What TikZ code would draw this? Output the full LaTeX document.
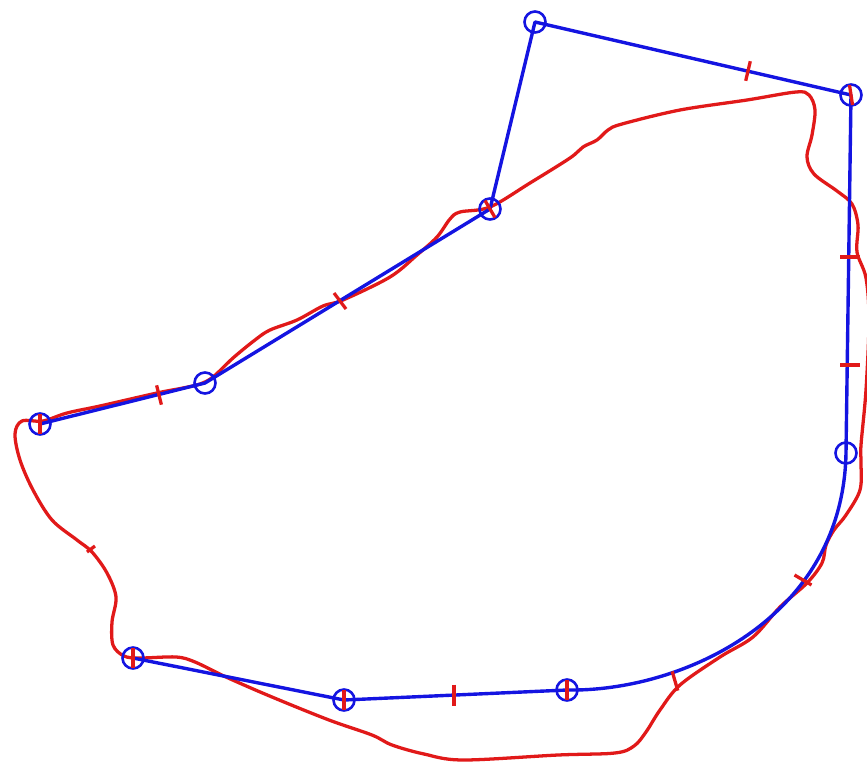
\documentclass[tikz,border=0pt]{standalone}
\usepackage{tikz}

\definecolor{fitblue}{RGB}{20,20,225}
\definecolor{tracered}{RGB}{225,25,25}

\begin{document}
\begin{tikzpicture}[x=0.3mm, y=-0.3mm, line join=round, line cap=round]

    % ==========================================
    % VARIABLE DEFINITIONS (pixel units)
    % ==========================================
    \pgfmathsetmacro{\Rring}{10.5}  % Radius of the vertex rings
    \tikzset{
        fitline/.style={fitblue, line width=2.9pt},
        ring/.style={circle, draw=fitblue, line width=2.2pt, minimum size=2*\Rring*0.3mm, inner sep=0pt},
        traceline/.style={tracered, line width=2.8pt},
        redtick/.style={tracered, line width=2.8pt, line cap=butt}
    }
    % ==========================================

    % Page size (same proportions as the reference)
    \useasboundingbox (0,0) rectangle (867,763);
    \clip (0,0) rectangle (867,763);

    % Vertices of the fitted outline
    \coordinate (vTop)    at (535, 22);
    \coordinate (vNE)     at (851, 95);
    \coordinate (vE)      at (846,453);
    \coordinate (vS)      at (567,690);
    \coordinate (vSW)     at (344,700);
    \coordinate (vFoot)   at (133,658);
    \coordinate (vW)      at (40,424);
    \coordinate (vMidW)   at (205,383);
    \coordinate (vNeck)   at (490,209);

    % Traced (hand drawn) outline
    \draw[traceline] plot[smooth cycle, tension=0.55] coordinates {
        (490,207) (460,212) (450,219) (437,237) (417,255) (390,277)
        (343,300) (323,306) (297,320) (270,330) (255,340) (233,358)
        (213,377) (200,384) (183,388) (157,393) (100,406) (67,413)
        (43,421) (22,421) (15,434) (20,460) (33,490) (52,520) (77,540)
        (92,552) (107,573) (116,597) (112,622) (113,645) (124,656)
        (140,658) (176,657) (195,662) (226,677) (272,697) (329,720)
        (372,735) (392,745) (424,754) (463,760) (558,755) (615,753)
        (634,746) (646,732) (660,710) (680,685) (720,657) (753,637)
        (780,607) (807,583) (822,563) (826,545) (834,530) (846,515)
        (860,490) (861,462) (861,445) (866,390) (869,320)
        (866,278) (857,252) (858,225) (852,204) (837,191) (814,174)
        (807,157) (812,135) (815,110) (809,95) (796,92) (747,100)
        (680,110) (622,124) (608,130) (597,140) (583,147) (570,158)
        (530,183)
    };

    % Fitted outline (straight pieces and one bend)
    \draw[fitline] (vW) -- (vMidW) -- (vNeck) -- (vTop) -- (vNE) -- (vE)
        .. controls (843,620) and (680,692) .. (vS) -- (vSW) -- (vFoot);

    % Rings on the vertices
    \foreach \v in {vTop,vNE,vE,vS,vSW,vFoot,vW,vMidW,vNeck}
        \node[ring] (r\v) at (\v) {};

    % Red ticks: centre x / centre y / half vector
    \foreach \cx/\cy/\dx/\dy in {748/71/-2.3/9.8, 850/257/10/0, 850/365/10/0,
            803/580/8.5/5, 675/681/2.8/9.6, 454/695/0/10.5, 159/395/2.4/9.7,
            340/301/6/8, 851/95/1.5/10, 567/690/0/10, 344/700/0/10,
            133/658/0/10, 40/424/0/10, 490/209/5/8.5, 91/549/4/-3}
        \draw[redtick] (\cx-\dx,\cy-\dy) -- (\cx+\dx,\cy+\dy);

\end{tikzpicture}
\end{document}
